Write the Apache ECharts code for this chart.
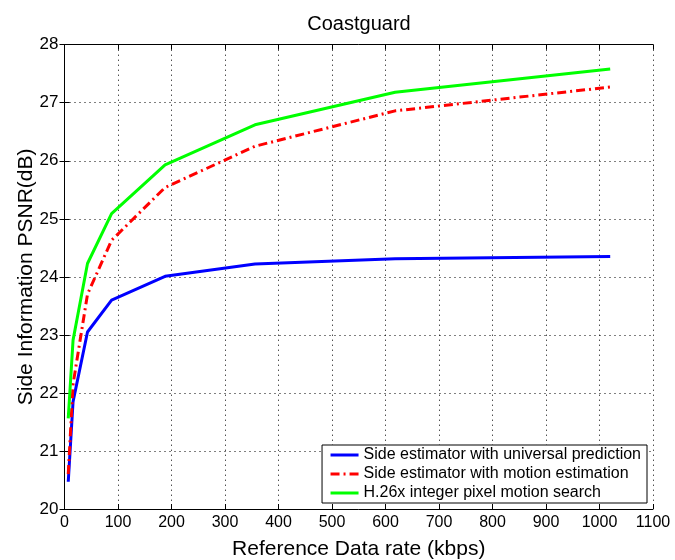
<!DOCTYPE html>
<html>
<head>
<meta charset="utf-8">
<script src="https://cdn.jsdelivr.net/npm/echarts@6/dist/echarts.min.js"></script>
<style>
html,body{margin:0;padding:0;background:#fff;}
#chart{width:675px;height:560px;}
</style>
</head>
<body>
<div id="chart"></div>
<script>
var rates = [7, 16, 43, 88, 188, 356, 618, 1020];
var universal = [20.47, 21.85, 23.05, 23.6, 24.01, 24.22, 24.31, 24.35];
var motionEst = [20.6, 22.15, 23.7, 24.63, 25.54, 26.25, 26.86, 27.27];
var h26x = [21.56, 22.91, 24.23, 25.09, 25.93, 26.62, 27.18, 27.58];
var seriesNames = ['Side estimator with universal prediction', 'Side estimator with motion estimation', 'H.26x integer pixel motion search'];
var xTicks = {min: 0, max: 1100, interval: 100};
var yTicks = {min: 20, max: 28, interval: 1};

function pairs(xs, ys) { return xs.map(function (x, i) { return [x, ys[i]]; }); }

var font = 'Liberation Sans, Arial, sans-serif';
var chart = echarts.init(document.getElementById('chart'), null, {renderer: 'canvas'});
var axisLineStyle = {show: true, lineStyle: {color: '#000', width: 1}};
chart.setOption({
  backgroundColor: '#fff',
  animation: false,
  title: {
    text: 'Coastguard', left: 354, top: 9, textAlign: 'center',
    textStyle: {fontFamily: font, fontSize: 20, fontWeight: 'normal', color: '#000'}
  },
  grid: {left: 64.5, right: 22, top: 44.7, bottom: 51, containLabel: false, outerBoundsMode: 'none'},
  legend: {
    orient: 'vertical', right: 28, top: 445,
    backgroundColor: '#fff', borderColor: '#000', borderWidth: 1,
    padding: [2, 6, 2, 7], itemGap: 3, itemWidth: 28, itemHeight: 15,
    textStyle: {fontFamily: font, fontSize: 16, color: '#000'},
    itemStyle: {color: 'rgba(0,0,0,0)', borderColor: 'rgba(0,0,0,0)', borderWidth: 0},
    lineStyle: {width: 3},
    data: seriesNames
  },
  xAxis: [{
    type: 'value', min: xTicks.min, max: xTicks.max, interval: xTicks.interval,
    name: 'Reference Data rate (kbps)', nameLocation: 'middle', nameGap: 30,
    nameTextStyle: {fontFamily: font, fontSize: 21, color: '#000'},
    axisLine: axisLineStyle,
    axisTick: {show: true, inside: true, length: 5, lineStyle: {color: '#000'}},
    axisLabel: {fontFamily: font, fontSize: 16, color: '#000', margin: 6, formatter: function (v) { return String(v); }},
    splitLine: {show: true, lineStyle: {color: '#000', type: [1, 4], width: 1}}
  }, {
    type: 'value', position: 'top', min: xTicks.min, max: xTicks.max, interval: xTicks.interval,
    axisLine: axisLineStyle,
    axisTick: {show: true, inside: true, length: 5, lineStyle: {color: '#000'}},
    axisLabel: {show: false}, splitLine: {show: false}
  }],
  yAxis: [{
    type: 'value', min: yTicks.min, max: yTicks.max, interval: yTicks.interval,
    name: 'Side Information PSNR(dB)', nameLocation: 'middle', nameGap: 28, nameMoveOverlap: false,
    nameTextStyle: {fontFamily: font, fontSize: 21, color: '#000'},
    axisLine: axisLineStyle,
    axisTick: {show: true, inside: true, length: 5, lineStyle: {color: '#000'}},
    axisLabel: {fontFamily: font, fontSize: 17, color: '#000', margin: 6},
    splitLine: {show: true, lineStyle: {color: '#000', type: [1, 4], width: 1}}
  }, {
    type: 'value', position: 'right', min: yTicks.min, max: yTicks.max, interval: yTicks.interval,
    axisLine: axisLineStyle,
    axisTick: {show: true, inside: true, length: 5, lineStyle: {color: '#000'}},
    axisLabel: {show: false}, splitLine: {show: false}
  }],
  series: [{
    name: seriesNames[0], type: 'line', data: pairs(rates, universal),
    symbol: 'none', color: '#0000ff', lineStyle: {color: '#0000ff', width: 3}
  }, {
    name: seriesNames[1], type: 'line', data: pairs(rates, motionEst),
    symbol: 'none', color: '#ff0000', lineStyle: {color: '#ff0000', width: 3, type: [9, 4, 2, 4]}
  }, {
    name: seriesNames[2], type: 'line', data: pairs(rates, h26x),
    symbol: 'none', color: '#00ff00', lineStyle: {color: '#00ff00', width: 3}
  }]
});
</script>
</body>
</html>
